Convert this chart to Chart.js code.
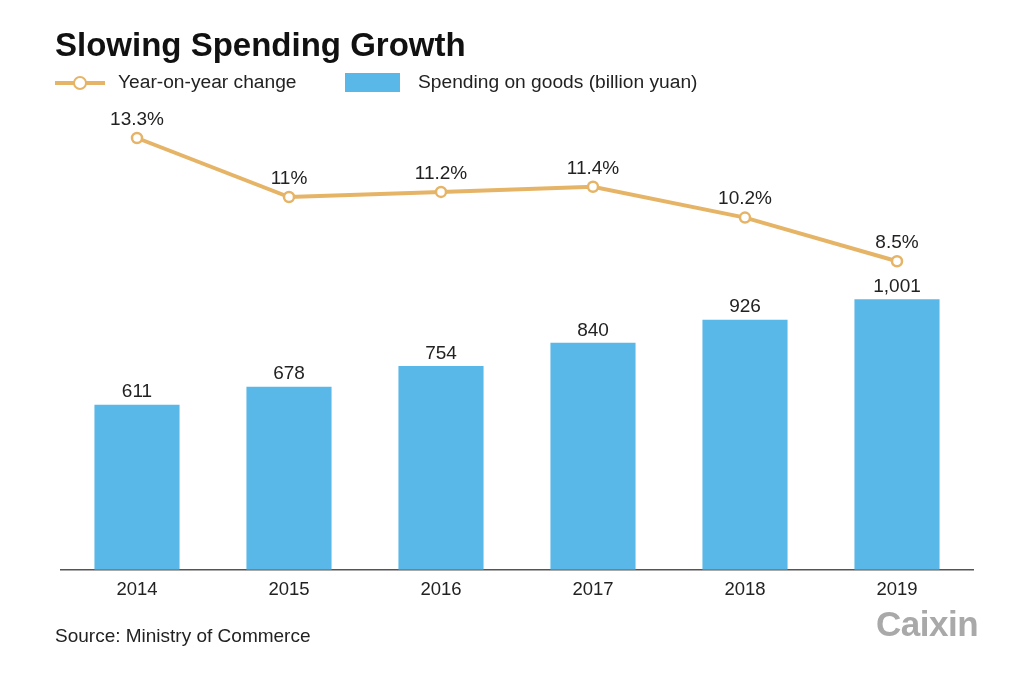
<!DOCTYPE html>
<html>
<head>
<meta charset="utf-8">
<script src="https://cdn.jsdelivr.net/npm/chart.js@4.4.1/dist/chart.umd.min.js"></script>
<style>
  html, body { margin: 0; padding: 0; background: #fff; }
  #wrap { position: relative; width: 1024px; height: 691px; overflow: hidden; font-family: "Liberation Sans", Arial, sans-serif; }
  canvas { position: absolute; left: 0; top: 0; }
  .t { position: absolute; white-space: nowrap; color: #222; }
  #title { left: 55px; top: 26px; font-size: 33px; font-weight: bold; color: #111; }
  #leg1 { left: 118px; top: 71px; font-size: 19.2px; }
  #leg2 { left: 418px; top: 71px; font-size: 19.2px; }
  #source { left: 55px; top: 625px; font-size: 19px; }
  #logo { left: 876px; top: 604px; font-size: 35px; font-weight: bold; color: #a9a9a9; letter-spacing: -0.5px; }
  #lgLine { position: absolute; left: 55px; top: 81px; width: 50px; height: 4px; background: #e6b467; }
  #lgDot { position: absolute; left: 73px; top: 76px; width: 10px; height: 10px; border: 2.5px solid #e6b467; border-radius: 50%; background: #fff; }
  #lgBox { position: absolute; left: 345px; top: 73px; width: 55px; height: 19px; background: #5ab8e8; }
</style>
</head>
<body>
<div id="wrap">
  <canvas id="c" width="1024" height="691"></canvas>
  <div class="t" id="title">Slowing Spending Growth</div>
  <div id="lgLine"></div><div id="lgDot"></div>
  <div class="t" id="leg1">Year-on-year change</div>
  <div id="lgBox"></div>
  <div class="t" id="leg2">Spending on goods (billion yuan)</div>
  <div class="t" id="source">Source: Ministry of Commerce</div>
  <div class="t" id="logo">Caixin</div>
</div>
<script>
const categories = ["2014", "2015", "2016", "2017", "2018", "2019"];
const spending = [611, 678, 754, 840, 926, 1001];
const spendingLabels = ["611", "678", "754", "840", "926", "1,001"];
const yoyChange = [13.3, 11, 11.2, 11.4, 10.2, 8.5];
const yoyLabels = ["13.3%", "11%", "11.2%", "11.4%", "10.2%", "8.5%"];

const labelPlugin = {
  id: 'valueLabels',
  afterDatasetsDraw(chart) {
    const ctx = chart.ctx;
    ctx.save();
    ctx.font = '19px "Liberation Sans", Arial, sans-serif';
    ctx.fillStyle = '#222';
    ctx.textAlign = 'center';
    ctx.textBaseline = 'bottom';
    chart.data.datasets.forEach((ds, i) => {
      const meta = chart.getDatasetMeta(i);
      meta.data.forEach((el, j) => {
        const txt = ds.valueLabels[j];
        const off = ds.type === 'line' ? 9 : 3;
        ctx.fillText(txt, el.x, el.y - off);
      });
    });
    ctx.restore();
  }
};

new Chart(document.getElementById('c'), {
  data: {
    labels: categories,
    datasets: [
      {
        type: 'line',
        label: 'Year-on-year change',
        data: yoyChange,
        valueLabels: yoyLabels,
        yAxisID: 'y2',
        borderColor: '#e6b467',
        borderWidth: 4,
        pointRadius: 5,
        pointBorderWidth: 2.5,
        pointBackgroundColor: '#fff',
        pointBorderColor: '#e6b467',
        tension: 0,
        order: 0
      },
      {
        type: 'bar',
        label: 'Spending on goods (billion yuan)',
        data: spending,
        valueLabels: spendingLabels,
        yAxisID: 'y',
        backgroundColor: '#5ab8e8',
        categoryPercentage: 1,
        barPercentage: 0.56,
        order: 1
      }
    ]
  },
  options: {
    responsive: false,
    animation: false,
    devicePixelRatio: 1,
    layout: { padding: { left: 61, right: 51, top: 100, bottom: 81 } },
    plugins: { legend: { display: false }, tooltip: { enabled: false }, title: { display: false } },
    scales: {
      x: {
        grid: { display: false, drawTicks: false },
        border: { display: true, color: '#555', width: 1.5 },
        ticks: { color: '#222', padding: 9, font: { size: 18.5, family: '"Liberation Sans", Arial, sans-serif' } }
      },
      y: { display: false, min: 0, max: 1739 },
      y2: { display: false, min: -3.52, max: 14.78 }
    }
  },
  plugins: [labelPlugin]
});
</script>
</body>
</html>
